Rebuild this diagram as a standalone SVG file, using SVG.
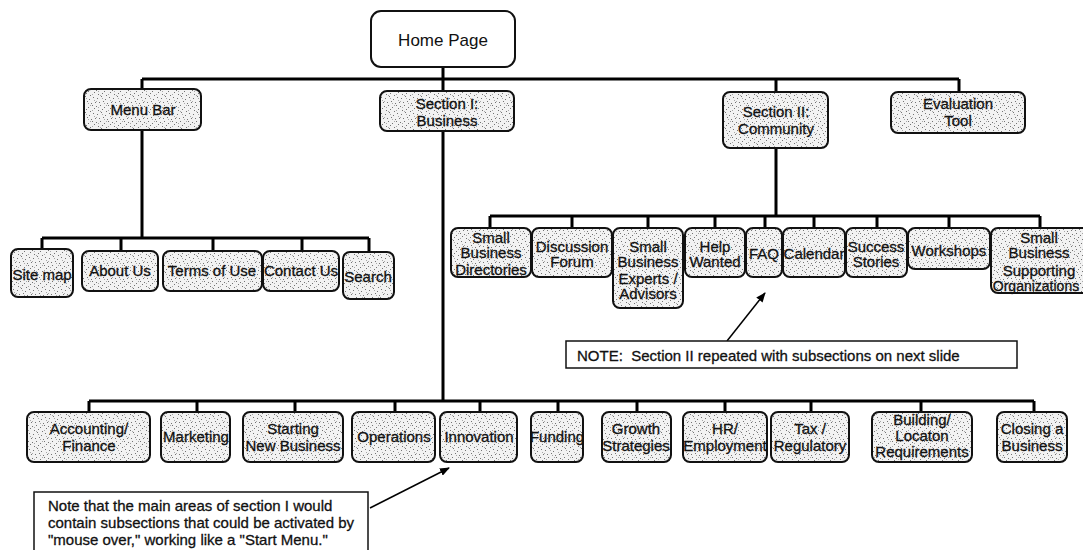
<svg xmlns="http://www.w3.org/2000/svg" width="1083" height="550" viewBox="0 0 1083 550">
  <defs>
    <!-- speckled grey fill used by the section boxes -->
    <pattern id="stip" width="16" height="16" patternUnits="userSpaceOnUse">
      <rect width="16" height="16" fill="#f2f2f2"/>
      <path fill="#737373" d="M1 2h1v1h-1z M5 0h1v1h-1z M9 3h1v1h-1z M13 1h1v1h-1z M3 6h1v1h-1z M7 5h1v1h-1z M11 7h1v1h-1z M15 6h1v1h-1z M0 10h1v1h-1z M4 9h1v1h-1z M8 11h1v1h-1z M12 9h1v1h-1z M2 14h1v1h-1z M6 13h1v1h-1z M10 15h1v1h-1z M14 12h1v1h-1z"/>
      <path fill="#a8a8a8" d="M6 2h1v1h-1z M14 4h1v1h-1z M2 11h1v1h-1z M10 9h1v1h-1z M0 5h1v1h-1z M12 14h1v1h-1z M8 7h1v1h-1z M4 15h1v1h-1z"/>
    </pattern>
    <marker id="head" markerWidth="10" markerHeight="8" refX="9" refY="4" orient="auto" markerUnits="userSpaceOnUse">
      <path d="M0 0 L10 4 L0 8 z" fill="#000"/>
    </marker>
    <style>
      .box { fill: url(#stip); stroke: #111; stroke-width: 2; }
      .home { fill: #fff; stroke: #111; stroke-width: 2; }
      .note { fill: #fff; stroke: #111; stroke-width: 1.5; }
      .wire { fill: none; stroke: #000; stroke-width: 3; }
      .ptr { fill: none; stroke: #000; stroke-width: 1.5; marker-end: url(#head); }
      text { font-family: "Liberation Sans", Arial, sans-serif; font-size: 15px; fill: #111; stroke: #111; stroke-width: 0.3; }
      .c { text-anchor: middle; }
      .big { font-size: 17px; stroke: none; }
      .sm { font-size: 14px; }
    </style>
  </defs>

  <!-- connectors -->
  <g id="connectors">
    <path class="wire" d="M443 67 V401 M142 79 H959 M142 79 V89 M142 130 V238 M776 79 V92 M776 148 V216 M959 79 V92"/>
    <path class="wire" d="M42 238 H369 M42 238 V249 M121 238 V251 M213 238 V251 M302 238 V251 M369 238 V252"/>
    <path class="wire" d="M490 216 H1040 M490 216 V228 M572 216 V228 M648 216 V228 M715 216 V228 M765 216 V228 M814 216 V228 M877 216 V228 M949 216 V228 M1040 216 V228"/>
    <path class="wire" d="M89 401 H1034 M89 401 V412 M197 401 V412 M295 401 V412 M395 401 V412 M480 401 V412 M558 401 V412 M637 401 V412 M725 401 V412 M811 401 V412 M921 401 V412 M1034 401 V412"/>
    <path class="ptr" d="M370 508 L449 468"/>
    <path class="ptr" d="M727 341 L765 293"/>
  </g>

  <!-- top level -->
  <g id="home"><rect class="home" x="371" y="11" width="144" height="56" rx="10"/><text class="c big" x="443" y="46">Home Page</text></g>
  <g id="menu-bar"><rect class="box" x="84" y="89" width="117" height="41" rx="7"/><text class="c" x="143" y="115">Menu Bar</text></g>
  <g id="section-1"><rect class="box" x="380" y="91" width="134" height="40" rx="7"/><text class="c" x="447" y="109">Section I:</text><text class="c" x="447" y="126">Business</text></g>
  <g id="section-2"><rect class="box" x="723" y="92" width="105" height="56" rx="7"/><text class="c" x="776" y="117">Section II:</text><text class="c" x="776" y="134">Community</text></g>
  <g id="evaluation"><rect class="box" x="891" y="92" width="134" height="41" rx="7"/><text class="c" x="958" y="109">Evaluation</text><text class="c" x="958" y="126">Tool</text></g>

  <!-- menu bar items -->
  <g id="site-map"><rect class="box" x="11" y="249" width="62" height="48" rx="7"/><text class="c" x="42" y="280">Site map</text></g>
  <g id="about-us"><rect class="box" x="82" y="251" width="76" height="40" rx="7"/><text class="c" x="120" y="276">About Us</text></g>
  <g id="terms"><rect class="box" x="163" y="251" width="99" height="40" rx="7"/><text class="c" x="212" y="276">Terms of Use</text></g>
  <g id="contact-us"><rect class="box" x="263" y="251" width="76" height="40" rx="7"/><text class="c" x="301" y="276">Contact Us</text></g>
  <g id="search"><rect class="box" x="343" y="252" width="51" height="47" rx="7"/><text class="c" x="368" y="282">Search</text></g>

  <!-- community items -->
  <g id="directories"><rect class="box" x="451" y="228" width="80" height="49" rx="7"/><text class="c" x="491" y="243">Small</text><text class="c" x="491" y="258">Business</text><text class="c" x="491" y="275">Directories</text></g>
  <g id="forum"><rect class="box" x="532" y="228" width="80" height="49" rx="7"/><text class="c" x="572" y="252">Discussion</text><text class="c" x="572" y="267">Forum</text></g>
  <g id="experts"><rect class="box" x="613" y="228" width="70" height="80" rx="7"/><text class="c" x="648" y="252">Small</text><text class="c" x="648" y="267">Business</text><text class="c" x="648" y="284">Experts /</text><text class="c" x="648" y="299">Advisors</text></g>
  <g id="help-wanted"><rect class="box" x="685" y="228" width="60" height="49" rx="7"/><text class="c" x="715" y="252">Help</text><text class="c" x="715" y="267">Wanted</text></g>
  <g id="faq"><rect class="box" x="746" y="228" width="36" height="49" rx="7"/><text class="c" x="764" y="259">FAQ</text></g>
  <g id="calendar"><rect class="box" x="783" y="228" width="62" height="49" rx="7"/><text class="c" x="814" y="259">Calendar</text></g>
  <g id="success"><rect class="box" x="846" y="228" width="61" height="49" rx="7"/><text class="c" x="876" y="252">Success</text><text class="c" x="876" y="267">Stories</text></g>
  <g id="workshops"><rect class="box" x="908" y="228" width="82" height="41" rx="7"/><text class="c" x="949" y="256">Workshops</text></g>
  <g id="supporting"><rect class="box" x="991" y="228" width="98" height="65" rx="7"/><text class="c" x="1039" y="243">Small</text><text class="c" x="1039" y="258">Business</text><text class="c" x="1039" y="276">Supporting</text><text class="c sm" x="1036" y="291">Organizations</text></g>

  <!-- business items -->
  <g id="accounting"><rect class="box" x="27" y="412" width="123" height="50" rx="7"/><text class="c" x="89" y="434">Accounting/</text><text class="c" x="89" y="451">Finance</text></g>
  <g id="marketing"><rect class="box" x="161" y="412" width="69" height="50" rx="7"/><text class="c" x="196" y="442">Marketing</text></g>
  <g id="starting"><rect class="box" x="243" y="412" width="100" height="50" rx="7"/><text class="c" x="293" y="434">Starting</text><text class="c" x="293" y="451">New Business</text></g>
  <g id="operations"><rect class="box" x="352" y="412" width="83" height="50" rx="7"/><text class="c" x="394" y="442">Operations</text></g>
  <g id="innovation"><rect class="box" x="440" y="412" width="77" height="50" rx="7"/><text class="c" x="479" y="442">Innovation</text></g>
  <g id="funding"><rect class="box" x="531" y="412" width="52" height="50" rx="7"/><text class="c" x="557" y="442">Funding</text></g>
  <g id="growth"><rect class="box" x="602" y="412" width="69" height="50" rx="7"/><text class="c" x="636" y="434">Growth</text><text class="c" x="636" y="451">Strategies</text></g>
  <g id="hr"><rect class="box" x="683" y="412" width="84" height="50" rx="7"/><text class="c" x="725" y="434">HR/</text><text class="c" x="725" y="451">Employment</text></g>
  <g id="tax"><rect class="box" x="771" y="412" width="78" height="50" rx="7"/><text class="c" x="810" y="434">Tax /</text><text class="c" x="810" y="451">Regulatory</text></g>
  <g id="building"><rect class="box" x="872" y="412" width="100" height="50" rx="7"/><text class="c" x="922" y="425">Building/</text><text class="c" x="922" y="441">Locaton</text><text class="c" x="922" y="457">Requirements</text></g>
  <g id="closing"><rect class="box" x="997" y="412" width="70" height="50" rx="7"/><text class="c" x="1032" y="434">Closing a</text><text class="c" x="1032" y="451">Business</text></g>

  <!-- notes -->
  <g id="note-section-2"><rect class="note" x="566" y="341" width="451" height="27"/><text x="577" y="361">NOTE:&#160; Section II repeated with subsections on next slide</text></g>
  <g id="note-section-1"><rect class="note" x="34" y="492" width="334" height="64"/><text x="48" y="511">Note that the main areas of section I would</text><text x="48" y="528">contain subsections that could be activated by</text><text x="48" y="545">"mouse over," working like a "Start Menu."</text></g>
</svg>
